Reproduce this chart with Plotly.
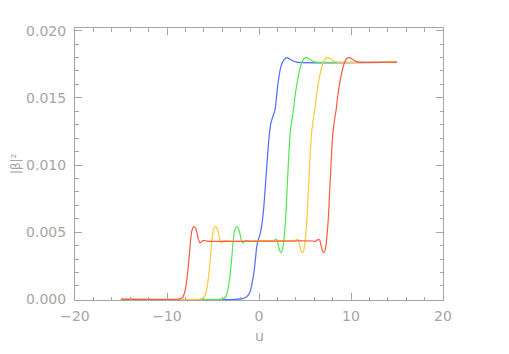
import plotly.graph_objects as go

# ---- data ----
blue_u = [-15, -2.5, -1.8, -1.4, -1.0, -0.75, -0.55, -0.4, -0.25, -0.1, 0.1, 0.3, 0.5, 0.7, 0.9, 1.1,
          1.3, 1.5, 1.74, 2.03, 2.39, 2.75, 3.08, 3.55, 4.1, 15]
blue_v = [0, 0, 0.00005, 0.00015, 0.0005, 0.0012, 0.0020, 0.0029, 0.0039, 0.0044, 0.0048, 0.0055,
          0.0067, 0.0085, 0.0104, 0.0121, 0.01315, 0.0136, 0.0141, 0.0159, 0.01736, 0.01786, 0.0180,
          0.0178, 0.01766, 0.01766]

green_u = [-15, -4.36, -3.96, -3.66, -3.41, -3.16, -2.96, -2.81, -2.66, -2.51, -2.39, -2.26, -2.11,
           -1.96, -1.81, -1.66, -1.46, -1.26, -1.01, 1.26, 1.46, 1.66, 1.81, 1.96, 2.11, 2.26, 2.41,
           2.56, 2.72, 2.9, 3.08, 3.26, 3.41, 3.56, 3.76, 3.91, 4.11, 4.27, 4.46, 4.64, 4.91, 5.18,
           5.46, 5.72, 5.96, 6.16, 15]
green_v = [0, 0, 0.00003, 0.00015, 0.0006, 0.0017, 0.0031, 0.0043, 0.0051, 0.00538, 0.00542, 0.0053,
           0.0050, 0.0045, 0.00424, 0.00424, 0.00438, 0.00438, 0.00433, 0.00434, 0.0043, 0.0044,
           0.00446, 0.0044, 0.0040, 0.0036, 0.00347, 0.0037, 0.0045, 0.0061, 0.0086, 0.0110, 0.0125,
           0.0133, 0.0142, 0.0151, 0.0160, 0.0166, 0.0172, 0.0176, 0.01795, 0.0180, 0.0179, 0.01778,
           0.0177, 0.01766, 0.01766]

yellow_u = [-15, -6.7, -6.28, -5.98, -5.73, -5.48, -5.28, -5.13, -4.98, -4.83, -4.71, -4.58, -4.43,
            -4.28, -4.13, -3.98, -3.78, -3.58, -3.33, 3.58, 3.78, 3.98, 4.13, 4.28, 4.43, 4.58, 4.73,
            4.88, 5.04, 5.22, 5.4, 5.58, 5.73, 5.88, 6.08, 6.23, 6.43, 6.59, 6.78, 6.96, 7.23, 7.5,
            7.78, 8.04, 8.28, 8.48, 15]
yellow_v = [0, 0, 0.00003, 0.00015, 0.0006, 0.0017, 0.0031, 0.0043, 0.0051, 0.00538, 0.00542, 0.0053,
            0.0050, 0.0045, 0.00424, 0.00424, 0.00438, 0.00438, 0.00433, 0.00434, 0.0043, 0.0044,
            0.00446, 0.0044, 0.0040, 0.0036, 0.00347, 0.0037, 0.0045, 0.0061, 0.0086, 0.0110, 0.0125,
            0.0133, 0.0142, 0.0151, 0.0160, 0.0166, 0.0172, 0.0176, 0.01795, 0.0180, 0.0179, 0.01778,
            0.0177, 0.01766, 0.01766]

red_u = [-15, -9.0, -8.6, -8.3, -8.05, -7.8, -7.6, -7.45, -7.3, -7.15, -7.03, -6.9, -6.75, -6.6,
         -6.45, -6.3, -6.1, -5.9, -5.65, 5.9, 6.1, 6.3, 6.45, 6.6, 6.75, 6.9, 7.05, 7.2, 7.36, 7.54,
         7.72, 7.9, 8.05, 8.2, 8.4, 8.55, 8.75, 8.91, 9.1, 9.28, 9.55, 9.82, 10.1, 10.36, 10.6,
         10.8, 15]
red_v = [0, 0, 0.00003, 0.00015, 0.0006, 0.0017, 0.0031, 0.0043, 0.0051, 0.00538, 0.00542, 0.0053,
         0.0050, 0.0045, 0.00424, 0.00424, 0.00438, 0.00438, 0.00433, 0.00434, 0.0043, 0.0044,
         0.00446, 0.0044, 0.0040, 0.0036, 0.00347, 0.0037, 0.0045, 0.0061, 0.0086, 0.0110, 0.0125,
         0.0133, 0.0142, 0.0151, 0.0160, 0.0166, 0.0172, 0.0176, 0.01795, 0.0180, 0.0179, 0.01778,
         0.0177, 0.01766, 0.01766]

series = [
    (blue_u, blue_v, "#4f6cff"),
    (green_u, green_v, "#4fe84f"),
    (yellow_u, yellow_v, "#ffc83a"),
    (red_u, red_v, "#ff5a3c"),
]

fig = go.Figure()
for u, v, c in series:
    fig.add_trace(go.Scatter(x=u, y=v, mode="lines",
                             line=dict(color=c, width=1.2, shape="spline", smoothing=0.6),
                             showlegend=False, hoverinfo="skip"))

gray = "#a6a6a6"
font = dict(family="DejaVu Sans", size=14, color=gray)

axis_common = dict(
    showgrid=False, zeroline=False, showline=True, linecolor=gray, linewidth=1,
    mirror="allticks", ticks="inside", ticklen=7, tickwidth=1, tickcolor=gray,
    tickfont=font,
)

fig.update_xaxes(range=[-20, 20], dtick=10, tick0=0,
                 minor=dict(dtick=2, ticks="inside", ticklen=3.5, tickcolor=gray),
                 ticklabelstandoff=3, **axis_common)
fig.update_yaxes(range=[-0.00005, 0.0202], dtick=0.005, tick0=0, tickformat=".3f",
                 minor=dict(dtick=0.001, ticks="inside", ticklen=3.5, tickcolor=gray),
                 ticklabelstandoff=5, **axis_common)

fig.add_annotation(text="|β|²", textangle=-90, xref="paper", yref="paper",
                   x=-0.16, y=0.5, xanchor="center", yanchor="middle", showarrow=False,
                   font=dict(family="DejaVu Sans", size=12, color=gray))
fig.add_annotation(text="u", xref="paper", yref="paper", x=0.5, y=-0.133,
                   xanchor="center", yanchor="middle", showarrow=False,
                   font=dict(family="DejaVu Sans", size=14, color=gray))

# page body adds an 8px offset, so margins are shifted to keep the plot box in place
fig.update_layout(width=509, height=354, paper_bgcolor="white", plot_bgcolor="white",
                  margin=dict(l=67, r=74, t=20, b=61.6, pad=0, autoexpand=False))

fig.write_html("out.html")
